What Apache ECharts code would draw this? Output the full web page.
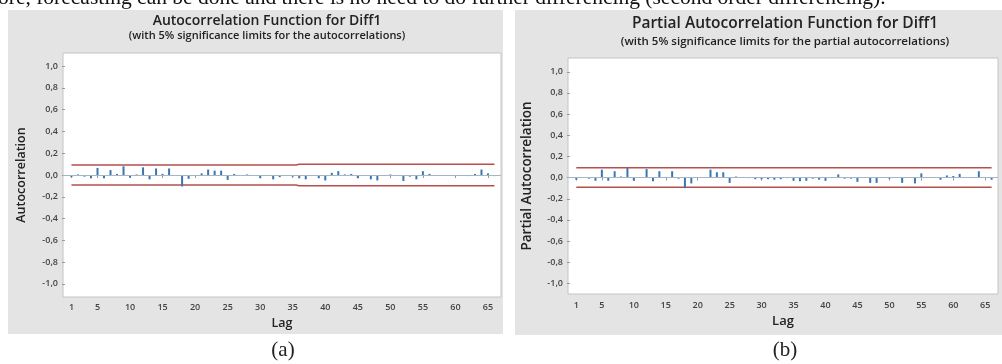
<!DOCTYPE html>
<html>
<head>
<meta charset="utf-8">
<script src="https://cdn.jsdelivr.net/npm/echarts@6/dist/echarts.min.js"></script>
<style>
  html, body { margin: 0; padding: 0; background: #fff; }
  #chart { width: 1002px; height: 364px; }
</style>
</head>
<body>
<div id="chart"></div>
<script>
const lags = [1, 2, 3, 4, 5, 6, 7, 8, 9, 10, 11, 12, 13, 14, 15, 16, 17, 18, 19, 20, 21, 22,
  23, 24, 25, 26, 27, 28, 29, 30, 31, 32, 33, 34, 35, 36, 37, 38, 39, 40, 41, 42, 43, 44,
  45, 46, 47, 48, 49, 50, 51, 52, 53, 54, 55, 56, 57, 58, 59, 60, 61, 62, 63, 64, 65, 66];

const acf = [-0.02, 0.005, -0.015, -0.03, 0.065, -0.03, 0.045, 0.01, 0.08, -0.025, 0.005,
  0.07, -0.04, 0.06, 0.01, 0.06, 0.0, -0.105, -0.035, 0.0, 0.015, 0.05, 0.04, 0.04, -0.045,
  0.01, 0.0, 0.005, -0.005, -0.03, -0.005, -0.04, -0.02, -0.005, -0.015, -0.03, -0.04,
  -0.005, -0.03, -0.05, 0.02, 0.035, 0.005, 0.01, -0.03, 0.0, -0.04, -0.05, 0.0, 0.005,
  -0.005, -0.055, -0.015, -0.04, 0.035, 0.01, 0.0, -0.005, 0.0, -0.01, 0.0, -0.01, 0.01,
  0.05, 0.015, -0.01];

const pacf = [-0.02, 0.0, -0.01, -0.03, 0.075, -0.03, 0.06, 0.01, 0.09, -0.03, 0.005,
  0.08, -0.035, 0.06, 0.005, 0.06, -0.01, -0.1, -0.055, 0.0, 0.005, 0.075, 0.05, 0.05,
  -0.05, 0.01, 0.005, -0.005, -0.015, -0.015, -0.015, -0.02, -0.015, -0.005, -0.03,
  -0.035, -0.03, -0.01, -0.02, -0.03, -0.005, 0.03, -0.01, -0.01, -0.04, 0.0, -0.05,
  -0.05, 0.0, -0.01, 0.0, -0.05, 0.0, -0.055, 0.04, 0.0, 0.005, -0.02, 0.02, 0.015,
  0.035, 0.005, 0.0, 0.06, 0.0, -0.02];

// 5% limits (acf ones widen a bit after lag 35)
const acfLimit = [0.092, 0.092, 0.092, 0.092, 0.092, 0.092, 0.092, 0.092, 0.092, 0.092,
  0.092, 0.092, 0.092, 0.092, 0.092, 0.092, 0.092, 0.092, 0.092, 0.092, 0.092, 0.092,
  0.092, 0.092, 0.092, 0.092, 0.092, 0.092, 0.092, 0.092, 0.092, 0.092, 0.092, 0.092,
  0.092, 0.098, 0.098, 0.098, 0.098, 0.098, 0.098, 0.098, 0.098, 0.098, 0.098, 0.098,
  0.098, 0.098, 0.098, 0.098, 0.098, 0.098, 0.098, 0.098, 0.098, 0.098, 0.098, 0.098,
  0.098, 0.098, 0.098, 0.098, 0.098, 0.098, 0.098, 0.098];
const pacfLimit = 0.092;

const xTicks = [1, 5, 10, 15, 20, 25, 30, 35, 40, 45, 50, 55, 60, 65];
const yTicks = [-1.0, -0.8, -0.6, -0.4, -0.2, 0.0, 0.2, 0.4, 0.6, 0.8, 1.0];

const SPIKE = '#3a76b2';
const LIMIT = '#b5504c';
const FONT = 'Open Sans';

const chart = echarts.init(document.getElementById('chart'));

function xAxisFor(gridIndex, labelMargin, nameGap, nameSize) {
  return {
    type: 'value', gridIndex, min: -0.3, max: 67,
    name: 'Lag', nameLocation: 'middle', nameGap,
    nameTextStyle: { fontFamily: FONT, fontSize: nameSize, fontWeight: 600, color: '#222' },
    axisLine: { show: false },
    axisTick: { show: true, length: 3, customValues: xTicks, lineStyle: { color: '#999' } },
    axisLabel: { customValues: xTicks, margin: labelMargin, fontFamily: FONT, fontSize: 9, fontWeight: 600, color: '#444' },
    splitLine: { show: false },
  };
}

function yAxisFor(gridIndex, name, min, max, nameGap, nameSize) {
  return {
    type: 'value', gridIndex, min, max,
    name, nameLocation: 'middle', nameGap,
    nameTextStyle: { fontFamily: FONT, fontSize: nameSize, fontWeight: 600, color: '#222' },
    axisLine: { show: false },
    axisTick: { show: true, length: 3, customValues: yTicks, lineStyle: { color: '#999' } },
    axisLabel: {
      customValues: yTicks, margin: 5, fontFamily: FONT, fontSize: 9, fontWeight: 600, color: '#444',
      formatter: (v) => v.toFixed(1).replace('.', ','),
    },
    splitLine: { show: false },
  };
}

function spikes(idx, values) {
  return {
    type: 'bar', xAxisIndex: idx, yAxisIndex: idx, barWidth: 2, z: 4,
    itemStyle: { color: SPIKE },
    data: lags.map((l, i) => [l, values[i]]),
    markLine: {
      silent: true, symbol: ['none', 'none'], label: { show: false },
      lineStyle: { color: '#a7b6c6', width: 1, type: 'solid' },
      data: [{ yAxis: 0 }],
    },
  };
}

function limitLine(idx, values, sign) {
  return {
    type: 'line', xAxisIndex: idx, yAxisIndex: idx, step: 'middle', symbol: 'none', z: 3,
    lineStyle: { color: LIMIT, width: 1.5 },
    data: lags.map((l, i) => [l, sign * (Array.isArray(values) ? values[i] : values)]),
  };
}

function text(x, y, str, font) {
  return {
    type: 'text', x, y, silent: true,
    style: { text: str, font, fill: '#222', textAlign: 'center', textVerticalAlign: 'middle' },
  };
}

chart.setOption({
  animation: false,
  graphic: [
    { type: 'rect', shape: { x: 8, y: 10, width: 495, height: 324 }, style: { fill: '#e4e4e4' }, z: -10 },
    { type: 'rect', shape: { x: 515, y: 10, width: 487, height: 325 }, style: { fill: '#e4e4e4' }, z: -10 },
    {
      type: 'text', x: -2, y: 9, silent: true,
      style: {
        text: 'ore, forecasting can be done and there is no need to do further differencing (second order differencing).',
        font: '21.5px "Liberation Serif"', fill: '#111', textAlign: 'left', textVerticalAlign: 'bottom',
      },
    },
    text(267, 21, 'Autocorrelation Function for Diff1', '600 14px "Open Sans"'),
    text(267, 36, '(with 5% significance limits for the autocorrelations)', '600 11px "Open Sans"'),
    text(785, 24, 'Partial Autocorrelation Function for Diff1', '600 15.5px "Open Sans"'),
    text(785, 42, '(with 5% significance limits for the partial autocorrelations)', '600 11.5px "Open Sans"'),
    text(283, 350, '(a)', '21px "Liberation Serif"'),
    text(785, 350, '(b)', '21px "Liberation Serif"'),
  ],
  grid: [
    { left: 63, top: 53, width: 438, height: 244, show: true, backgroundColor: '#fff', borderColor: '#c4c4c4', borderWidth: 1 },
    { left: 568, top: 58, width: 430, height: 236, show: true, backgroundColor: '#fff', borderColor: '#c4c4c4', borderWidth: 1 },
  ],
  xAxis: [xAxisFor(0, 6, 17, 12.5), xAxisFor(1, 7, 19, 13)],
  yAxis: [
    yAxisFor(0, 'Autocorrelation', -1.12, 1.12, 35, 12.5),
    yAxisFor(1, 'Partial Autocorrelation', -1.1, 1.13, 34, 13.5),
  ],
  series: [
    limitLine(0, acfLimit, 1),
    limitLine(0, acfLimit, -1),
    spikes(0, acf),
    limitLine(1, pacfLimit, 1),
    limitLine(1, pacfLimit, -1),
    spikes(1, pacf),
  ],
});
</script>
</body>
</html>
